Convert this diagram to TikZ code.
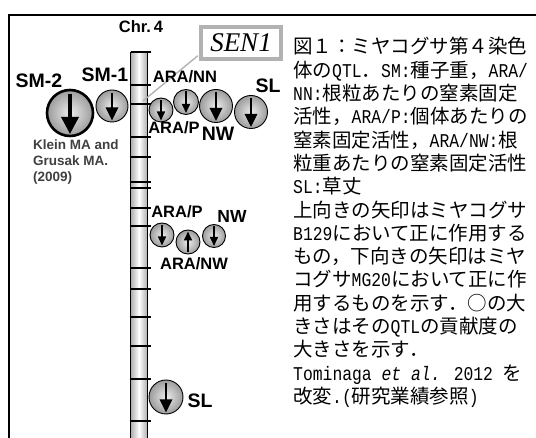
\documentclass[tikz,border=0pt]{standalone}
\usepackage{fontspec}
\setmainfont{Liberation Sans}
\newfontfamily\jp{Noto Sans CJK JP}
\newfontfamily\hw[FakeStretch=0.84]{Liberation Mono}
\newfontfamily\senfont{Liberation Serif}
\usetikzlibrary{arrows.meta}
\begin{document}
\begin{tikzpicture}[x=1pt,y=-1pt,
  lab/.style={inner sep=0, font=\bfseries\fontsize{19.5}{20}\selectfont},
  labs/.style={inner sep=0, font=\bfseries\fontsize{16.5}{18}\selectfont},
  qtl/.style={circle, draw=black, line width=0.9pt, inner color=gray!15, outer color=gray!78, minimum size=#1pt, inner sep=0, outer sep=0},
  hugearr/.style={line width=3.6pt, -{Triangle[width=17pt,length=17pt]}},
  bigarr/.style={line width=2.8pt, -{Triangle[width=12pt,length=13pt]}},
  smallarr/.style={line width=1.6pt, -{Triangle[width=8pt,length=9pt]}},
  band/.style={line width=1.6pt, black},
  chrom/.style={draw=black, line width=0.9pt, left color=gray!65, right color=gray!65, middle color=white, inner sep=0, outer sep=0},
  senbox/.style={draw=gray!60, line width=3.5pt, fill=white, minimum width=80pt, minimum height=32pt, inner sep=0, font=\senfont\itshape\fontsize{27}{28}\selectfont},
  jtext/.style={anchor=base west, inner sep=0, font=\jp\fontsize{19.5}{20}\selectfont}
]
\useasboundingbox (0,0) rectangle (536,438);
% frame
\draw[line width=1.6pt] (536,15) -- (9,15) -- (9,438);

% chromosome
\node[chrom, minimum width=17pt, minimum height=388pt] (chr) at (139,246) {};
\foreach \y in {52,85,104,137,157,182,188,208,226,268,289,317,346,379,421}
  \draw[band] (130.5,\y) -- (150.5,\y);
\node[font=\bfseries\fontsize{16.5}{18}\selectfont, inner sep=0] (chrlab) at (141,27) {Chr.\,4};

% SEN1 box and connector
\coordinate (locus) at (143,101);
\node[senbox] (sen) at (241,43) {SEN1};
\draw[gray!60, line width=1.4pt] ([yshift=5pt,xshift=-1.5pt]sen.south west) -- (locus);

% top row QTLs
\node[qtl=46, line width=2.6pt] (sm2) at (70,113) {};
\draw[hugearr] ([yshift=-4pt]sm2.north) -- ([yshift=2pt]sm2.south);
\node[qtl=32] (sm1) at (112,106) {};
\draw[bigarr] ([yshift=-3pt]sm1.north) -- ([yshift=1.5pt]sm1.south);
\node[qtl=24] (a1) at (161,110) {};
\draw[smallarr] ([yshift=-2pt]a1.north) -- ([yshift=1.5pt]a1.south);
\node[qtl=25] (a2) at (186,102) {};
\draw[smallarr] ([yshift=-2pt]a2.north) -- ([yshift=1.5pt]a2.south);
\node[qtl=33] (a3) at (216,106) {};
\draw[bigarr] ([yshift=-3pt]a3.north) -- ([yshift=1.5pt]a3.south);
\node[qtl=33] (a4) at (251,112) {};
\draw[bigarr] ([yshift=-3pt]a4.north) -- ([yshift=1.5pt]a4.south);

\node[lab] (lsm2) at (39,81) {SM-2};
\node[lab] (lsm1) at (105,75) {SM-1};
\node[labs] (lnn) at (185,77) {ARA/NN};
\node[lab] (lsl1) at (268,86) {SL};
\node[labs] (lp1) at (174,128) {ARA/P};
\node[lab] (lnw1) at (218,134) {NW};

\node[anchor=north west, align=left, inner sep=0, text=black!75, font=\bfseries\fontsize{13.5}{16}\selectfont] (klein) at (33,140) {Klein MA and\\Grusak MA.\\(2009)};

% middle group
\node[qtl=24] (b1) at (162,235) {};
\draw[smallarr] ([yshift=-2pt]b1.north) -- ([yshift=1.5pt]b1.south);
\node[qtl=24] (b2) at (188,242) {};
\draw[smallarr] ([yshift=2pt]b2.south) -- ([yshift=-1.5pt]b2.north);
\node[qtl=23] (b3) at (214,236) {};
\draw[smallarr] ([yshift=-2pt]b3.north) -- ([yshift=1.5pt]b3.south);
\node[labs] (lp2) at (177,212) {ARA/P};
\node[labs, font=\bfseries\fontsize{17.5}{18}\selectfont] (lnw2) at (232,216) {NW};
\node[labs] (lanw) at (194,264) {ARA/NW};

% bottom SL
\node[qtl=34] (c1) at (166,397) {};
\draw[bigarr] ([yshift=-3pt]c1.north) -- ([yshift=1.5pt]c1.south);
\node[lab] (lsl2) at (200,401) {SL};

% caption text
\node[jtext] (t1) at (293,54) {図１：ミヤコグサ第４染色};
\node[jtext] (t2) at (293,77.3) {体の{\hw QTL}．{\hw SM:}種子重，{\hw ARA/}};
\node[jtext] (t3) at (293,100.6) {{\hw NN:}根粒あたりの窒素固定};
\node[jtext] (t4) at (293,123.9) {活性，{\hw ARA/P:}個体あたりの};
\node[jtext] (t5) at (293,147.2) {窒素固定活性，{\hw ARA/NW:}根};
\node[jtext] (t6) at (293,170.5) {粒重あたりの窒素固定活性};
\node[jtext] (t7) at (293,193.8) {{\hw SL:}草丈};
\node[jtext] (t8) at (293,217.1) {上向きの矢印はミヤコグサ};
\node[jtext] (t9) at (293,240.4) {{\hw B129}において正に作用する};
\node[jtext] (t10) at (293,263.7) {もの，下向きの矢印はミヤ};
\node[jtext] (t11) at (293,287) {コグサ{\hw MG20}において正に作};
\node[jtext] (t12) at (293,310.3) {用するものを示す．○の大};
\node[jtext] (t13) at (293,333.6) {きさはその{\hw QTL}の貢献度の};
\node[jtext] (t14) at (293,356.9) {大きさを示す．};
\node[jtext] (t15) at (293,380.2) {{\hw Tominaga {\itshape et al.} 2012 }を};
\node[jtext] (t16) at (293,403.5) {改変{\hw .(}研究業績参照{\hw )}};
\end{tikzpicture}
\end{document}
